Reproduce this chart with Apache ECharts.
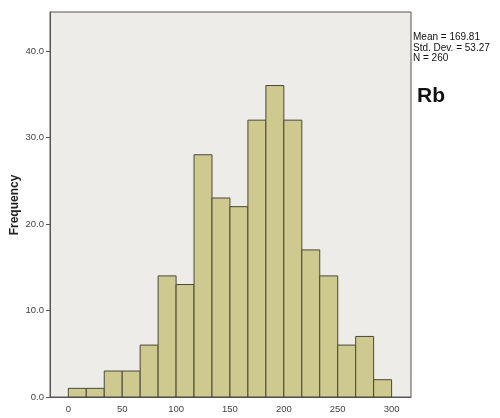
<!DOCTYPE html>
<html><head><meta charset="utf-8">
<script src="https://cdn.jsdelivr.net/npm/echarts@6/dist/echarts.min.js"></script>
<style>html,body{margin:0;padding:0;background:#fff}#c{width:500px;height:418px}</style>
</head><body><div id="c"></div>
<script>
const binStart = 0;
const binWidth = 300 / 18;
const frequencies = [1, 1, 3, 3, 6, 14, 13, 28, 23, 22, 32, 36, 32, 17, 14, 6, 7, 2];
const xTicks = [0, 50, 100, 150, 200, 250, 300];
const yTicks = [0, 10, 20, 30, 40];
const statsLines = ['Mean = 169.81', 'Std. Dev. = 53.27', 'N = 260'];
const variableName = 'Rb';
const yTitle = 'Frequency';

const data = frequencies.map((f, i) => [binStart + i * binWidth, binStart + (i + 1) * binWidth, f]);

const chart = echarts.init(document.getElementById('c'), null, {renderer: 'canvas'});
chart.setOption({
  animation: false,
  backgroundColor: '#ffffff',
  grid: {left: 50, top: 12, right: 89, bottom: 21, show: true, backgroundColor: '#EEECE8', borderColor: '#555', borderWidth: 1, outerBoundsMode: 'none', containLabel: false},
  xAxis: {
    type: 'value', min: -17, max: 318,
    axisLine: {show: true, onZero: false, lineStyle: {color: '#555'}},
    axisTick: {show: false},
    splitLine: {show: false},
    axisLabel: {
      color: '#444', fontSize: 9.5, fontFamily: 'Arial, Liberation Sans', margin: 7,
      customValues: xTicks,
      formatter: v => String(v)
    }
  },
  yAxis: {
    type: 'value', min: 0, max: 44.5,
    axisLine: {show: true, onZero: false, lineStyle: {color: '#555'}},
    axisTick: {show: true, length: 4, lineStyle: {color: '#555'}, customValues: yTicks},
    splitLine: {show: false},
    axisLabel: {
      color: '#444', fontSize: 9.5, fontFamily: 'Arial, Liberation Sans', margin: 6,
      customValues: yTicks,
      formatter: v => v.toFixed(1)
    }
  },
  series: [{
    type: 'custom',
    data: data,
    renderItem: function (params, api) {
      const p0 = api.coord([api.value(0), api.value(2)]);
      const p1 = api.coord([api.value(1), 0]);
      return {
        type: 'rect',
        shape: {x: p0[0], y: p0[1], width: p1[0] - p0[0], height: p1[1] - p0[1]},
        style: {fill: '#CEC98F', stroke: '#4a4838', lineWidth: 1}
      };
    },
    encode: {x: [0, 1], y: 2}
  }],
  graphic: [
    {type: 'text', x: 15, y: 205, rotation: Math.PI / 2, style: {text: yTitle, fontSize: 12, fontWeight: 'bold', fill: '#222', fontFamily: 'Arial, Liberation Sans', align: 'center', verticalAlign: 'middle'}},
    {type: 'text', left: 413, top: 32, style: {text: statsLines.join('\n'), fontSize: 10, lineHeight: 10.5, fill: '#111', fontFamily: 'Liberation Sans Narrow, Arial, Liberation Sans'}},
    {type: 'text', left: 417, top: 86, style: {text: variableName, fontSize: 21, fontWeight: 'bold', fill: '#111', fontFamily: 'Arial, Liberation Sans'}}
  ]
});
</script></body></html>
